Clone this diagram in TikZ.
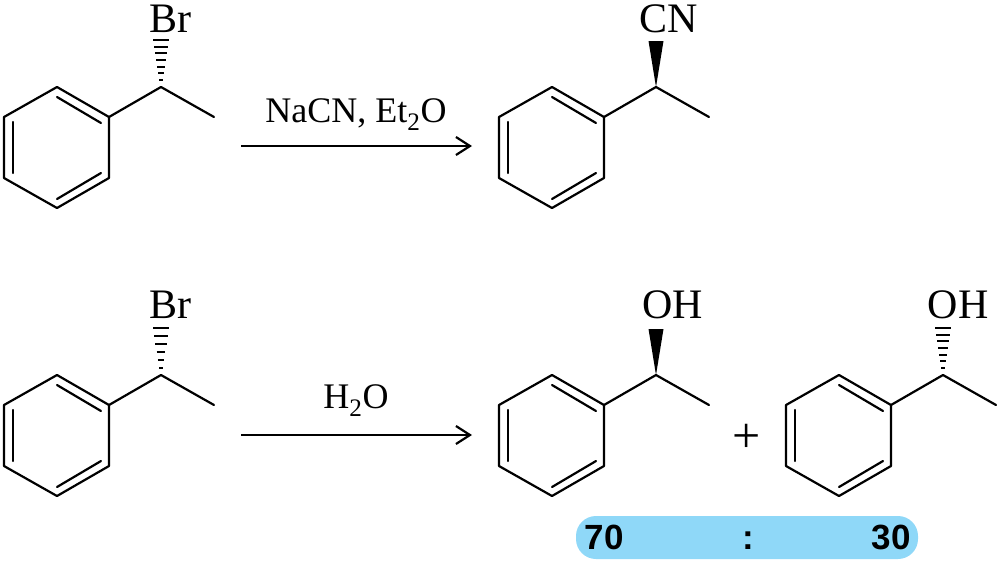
\documentclass[tikz,border=0pt]{standalone}
\usepackage{fontspec}
\setmainfont{Liberation Serif}
\setsansfont{Liberation Sans}
\usetikzlibrary{arrows.meta,positioning}
\definecolor{pillblue}{HTML}{8FD8F8}
\tikzset{
    %Define standard arrow tip
    >={Straight Barb[length=14pt,width=18pt,line width=2.2pt]},
    %Define style for labels
    atom/.style={
           inner sep=0pt,
           anchor=base,
           font=\fontsize{42}{42}\selectfont},
    reagent/.style={
           inner sep=0pt,
           anchor=base,
           font=\fontsize{36}{36}\selectfont},
    ratio/.style={
           inner sep=0pt,
           anchor=base,
           font=\fontsize{35}{35}\selectfont\sffamily\bfseries},
    pill/.style={
           fill=pillblue,
           rounded corners=20pt,
           minimum width=342pt,
           minimum height=43pt,
           inner sep=0pt},
    % Define bond styles
    bond/.style={line width=2.2pt,line cap=round,line join=round},
    hashbar/.style={line width=2.2pt},
    pil/.style={->,line width=2.2pt}
}
\begin{document}
\begin{tikzpicture}[x=1pt,y=-1pt]
\useasboundingbox (0,0) rectangle (1000,563);

% skeleton of the five molecules
\foreach \m/\dx/\dy in {a/0/0,b/495/0,c/0/288,d/495/288,e/782/288}{
\begin{scope}[shift={(\dx,\dy)}]
\coordinate (\m1) at (57,87);
\coordinate (\m2) at (109,117);
\coordinate (\m3) at (109,178);
\coordinate (\m4) at (57,208);
\coordinate (\m5) at (4,178);
\coordinate (\m6) at (4,117);
\coordinate (\m7) at (161,87);
\coordinate (\m8) at (214,117);
\coordinate (\m9) at (57,97);
\coordinate (\m10) at (101,123);
\coordinate (\m11) at (101,173);
\coordinate (\m12) at (57,199);
\coordinate (\m13) at (13,173);
\coordinate (\m14) at (13,122);
\draw[bond] (\m1) -- (\m2) -- (\m3) -- (\m4) -- (\m5) -- (\m6) -- cycle;
\draw[bond] (\m2) -- (\m7) -- (\m8);
\draw[bond] (\m9) -- (\m10);
\draw[bond] (\m11) -- (\m12);
\draw[bond] (\m13) -- (\m14);
\end{scope}
}

% hashed bonds
\foreach \m/\dx/\dy/\n in {a/0/0/6,c/0/288/5,e/782/288/6}{
\foreach \i in {0,...,\n}{
\draw[hashbar] (161+\dx-8+6*\i/\n,40+\dy+40*\i/\n) -- (161+\dx+8-6*\i/\n,40+\dy+40*\i/\n);
}
}

% wedged bonds
\foreach \m in {b,d}{
\fill (\m7) -- ++(-7.5,-46) -- ++(15,0) -- cycle;
}

% labels
\node[atom] (bra) at (170,32) {Br};
\node[atom] (cnb) at (669,32) {CN};
\node[atom] (brc) at (170,318) {Br};
\node[atom] (ohd) at (672.5,318) {OH};
\node[atom] (ohe) at (958,318) {OH};
\node[atom,font=\fontsize{50}{50}\selectfont] (plus) at (747,452) {+};

% reactions
\coordinate (s1) at (241,146);
\coordinate (t1) at (472,146);
\coordinate (s2) at (241,435);
\coordinate (t2) at (472,435);
\draw[pil] (s1) -- (t1);
\draw[pil] (s2) -- (t2);
\node[reagent] (cond1) at (356,122) {NaCN, Et\textsubscript{2}O};
\node[reagent] (cond2) at (356,408) {H\textsubscript{2}O};

% ratio
\node[pill] (bar) at (747,537.5) {};
\node[ratio] (seventy) at (604,549) {70};
\node[ratio] (colon) at (748,549) {:};
\node[ratio] (thirty) at (891,549) {30};
\end{tikzpicture}
\end{document}
